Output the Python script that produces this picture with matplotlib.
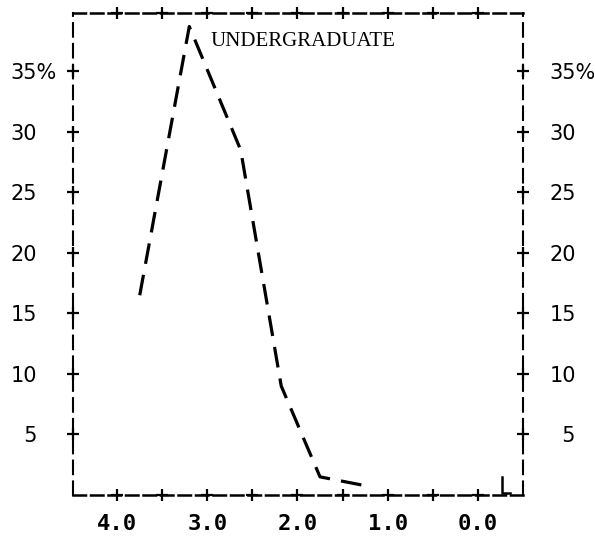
import matplotlib
matplotlib.use("Agg")
import matplotlib.pyplot as plt

# undergraduate grade distribution
gpa = [3.75, 3.2, 2.63, 2.18, 1.75, 1.2]
percent = [16.5, 38.7, 28.5, 9.0, 1.5, 0.7]

# small stroke at the far right end near 0.0
tail_gpa = [-0.27, -0.27, -0.36]
tail_percent = [1.5, 0.15, 0.15]

x_plus = [4.0, 3.5, 3.0, 2.5, 2.0, 1.5, 1.0, 0.5, 0.0]
x_ticks = [4.0, 3.0, 2.0, 1.0, 0.0]
x_labels = ["4.0", "3.0", "2.0", "1.0", "0.0"]
y_ticks = [5, 10, 15, 20, 25, 30, 35]
y_labels = ["\u20075", "10", "15", "20", "25", "30", "35%"]

fig = plt.figure(figsize=(5.95, 5.42), dpi=100)
ax = fig.add_axes([0.1227, 0.0867, 0.756, 0.889])

ax.plot(gpa, percent, color="black", lw=2.3, dashes=(6.5, 3.5), solid_capstyle="butt")
ax.plot(tail_gpa, tail_percent, color="black", lw=1.8)

ax.set_xlim(4.49, -0.5)
ax.set_ylim(0, 39.8)

# dashed frame
for side in ["left", "right"]:
    ax.spines[side].set_linewidth(1.5)
    ax.spines[side].set_linestyle((0, (6.5, 3.5)))
for side in ["top", "bottom"]:
    ax.spines[side].set_linewidth(1.8)
    ax.spines[side].set_linestyle((0, (5, 2)))

# "+" tick marks on the frame
plus = dict(ls="none", marker="+", ms=8.5, mew=1.6, color="black", clip_on=False)
ax.plot(x_plus, [0] * len(x_plus), transform=ax.get_xaxis_transform(), **plus)
ax.plot(x_plus, [1] * len(x_plus), transform=ax.get_xaxis_transform(), **plus)
ax.plot([0] * len(y_ticks), y_ticks, transform=ax.get_yaxis_transform(), **plus)
ax.plot([1] * len(y_ticks), y_ticks, transform=ax.get_yaxis_transform(), **plus)

ax.set_xticks(x_ticks)
ax.set_xticklabels(x_labels, fontfamily="DejaVu Sans Mono", fontweight="bold", fontsize=16)
ax.tick_params(axis="x", length=0, pad=14)

ax.set_yticks(y_ticks)
ax.set_yticklabels(y_labels, fontfamily="DejaVu Sans", fontsize=15)
ax.tick_params(axis="y", length=0, pad=45)
for t in ax.yaxis.get_major_ticks():
    t.label1.set_horizontalalignment("left")

ax2 = ax.twinx()
ax2.set_ylim(ax.get_ylim())
ax2.set_yticks(y_ticks)
ax2.set_yticklabels(y_labels, fontfamily="DejaVu Sans", fontsize=15)
ax2.tick_params(axis="y", length=0, pad=19)
for s in ax2.spines.values():
    s.set_visible(False)

ax.text(2.97, 37.5, "UNDERGRADUATE", fontfamily="Liberation Serif", fontsize=15,
        ha="left", va="center")

fig.savefig("out.png", dpi=100)
